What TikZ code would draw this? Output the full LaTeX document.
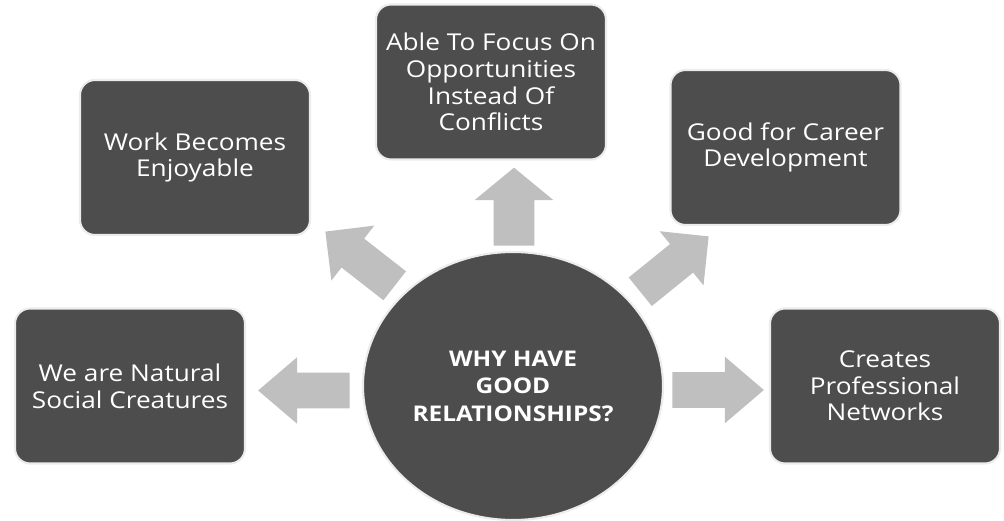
\documentclass[tikz,border=0pt]{standalone}
\usepackage{fontspec}
\setmainfont{Open Sans}[FakeStretch=1.13]
\usetikzlibrary{positioning,shapes.geometric,shapes.arrows}
\definecolor{boxgray}{RGB}{77,77,77}
\definecolor{arrowgray}{RGB}{191,191,191}
\definecolor{rimgray}{RGB}{236,236,236}

\begin{document}
\begin{tikzpicture}[node distance=3cm,on grid,
    reason/.style={rectangle, rounded corners=0.3cm, fill=boxgray, draw=rimgray,
      line width=1.2pt, text=white, minimum width=4.6cm, minimum height=3.1cm,
      align=center, font=\fontsize{13.2}{15.2}\selectfont},
    hub/.style={ellipse, fill=boxgray, draw=rimgray, line width=1.2pt, inner sep=0pt,
      minimum width=6cm, minimum height=5.36cm, text=white, align=center,
      font=\bfseries\fontsize{12.3}{15.6}\selectfont},
    blk/.style={single arrow, fill=arrowgray, draw=none, inner xsep=0pt, anchor=tail},
    harrow/.style={blk, inner ysep=0.35cm, minimum width=1.32cm,
      single arrow head extend=0.31cm, single arrow tip angle=81, minimum height=1.83cm},
    varrow/.style={blk, inner ysep=0.4cm, minimum width=1.56cm,
      single arrow head extend=0.38cm, single arrow tip angle=101, minimum height=1.56cm},
    darrow/.style={blk, inner ysep=0.36cm, minimum width=1.38cm,
      single arrow head extend=0.33cm, single arrow tip angle=90, minimum height=1.76cm}]
  \useasboundingbox (0,0) rectangle (20.08,10.42);
  \node[hub] (why) at (10.26,2.70) {WHY HAVE\\GOOD\\RELATIONSHIPS?};
  \node[reason] (social) [left=7.66cm of why] {We are Natural\\Social Creatures};
  \node[reason] (work) [above left=4.57cm and 6.36cm of why] {Work Becomes\\Enjoyable};
  \node[reason] (focus) [above left=6.08cm and 0.44cm of why] {Able To Focus On\\Opportunities\\Instead Of\\Conflicts};
  \node[reason] (career) [above right=4.77cm and 5.45cm of why] {Good for Career\\Development};
  \node[reason] (networks) [right=7.44cm of why] {Creates\\Professional\\Networks};
  % block arrows from the hub out to each reason
  \node[harrow, rotate=180] (to_social) at (7.00,2.61) {};
  \node[darrow, rotate=142] (to_work) at (7.90,4.70) {};
  \node[varrow, rotate=90] (to_focus) at (10.28,5.50) {};
  \node[darrow, rotate=39] (to_career) at (12.80,4.58) {};
  \node[harrow] (to_networks) at (13.44,2.62) {};
\end{tikzpicture}
\end{document}
